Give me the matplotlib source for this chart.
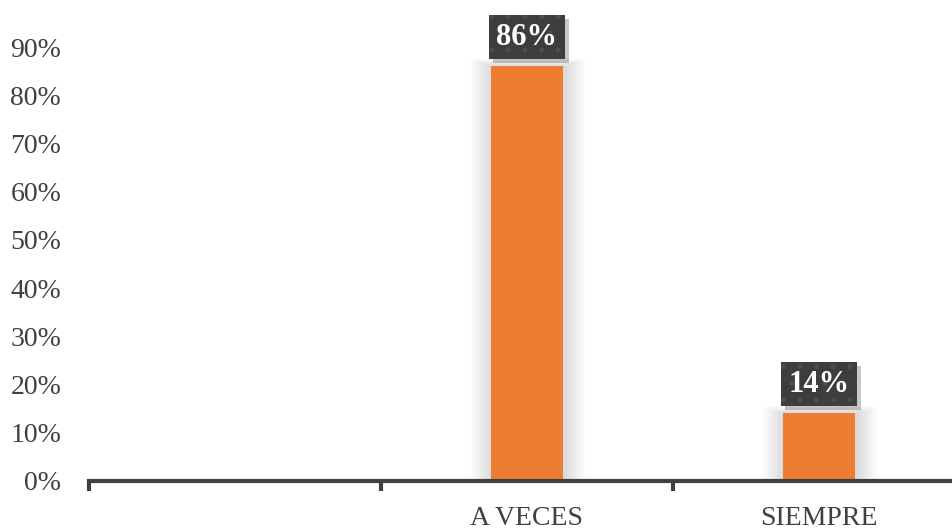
import matplotlib
matplotlib.use("Agg")
import matplotlib.pyplot as plt
from matplotlib.patches import Rectangle

_FONT = "Liberation Serif"
_TEXT = "#404040"
_BAR = "#ED7D31"

categories = ["", "A VECES", "SIEMPRE"]
values = [0.0, 0.86, 0.14]
y_ticks = [0.0, 0.1, 0.2, 0.3, 0.4, 0.5, 0.6, 0.7, 0.8, 0.9]
y_labels = ["0%", "10%", "20%", "30%", "40%", "50%", "60%", "70%", "80%", "90%"]
value_labels = ["", "86%", "14%"]

plt.rcParams["hatch.linewidth"] = 1.2

W, H = 953, 529
fig = plt.figure(figsize=(W / 100, H / 100), dpi=100)
# axes box in pixels: left 89, each category 292 px (right edge runs past the figure)
ax = fig.add_axes([89 / W, (H - 481) / H, 876 / W, 434 / H])

x = list(range(len(categories)))
bar_w = 0.247

# soft shadow around bars
for xi, v in zip(x, values):
    if v <= 0:
        continue
    for k in range(1, 10):
        grow = 0.008 * k
        ax.add_patch(Rectangle((xi - bar_w / 2 - grow + 0.004, 0), bar_w + 2 * grow, v + grow * 0.2,
                               facecolor="black", edgecolor="none", alpha=0.014, zorder=1))

ax.bar(x, values, width=bar_w, color=_BAR, zorder=3)

labels = []
for xi, v, lab in zip(x, values, value_labels):
    if not lab:
        continue
    t = ax.annotate(lab, (xi, v), xytext=(0, 21), textcoords="offset points",
                    ha="center", va="center", fontsize=22, fontweight="bold",
                    fontfamily=_FONT, color="white", zorder=5,
                    bbox=dict(boxstyle="square,pad=0.25", facecolor="#3d3d3d",
                              edgecolor="#4e4e4e", linewidth=0, hatch="."))
    labels.append(t)

ax.set_xlim(-0.5, len(categories) - 0.5)
ax.set_ylim(0, 0.9)

# boundary ticks on the x axis, labels at category centres
ax.set_xticks([i - 0.5 for i in range(len(categories) + 1)])
ax.set_xticklabels([])
ax.set_xticks(x, minor=True)
ax.set_xticklabels(categories, minor=True, fontsize=20, fontfamily=_FONT, color=_TEXT)
ax.tick_params(axis="x", which="major", length=7, width=3, color=_TEXT, direction="out")
ax.tick_params(axis="x", which="minor", length=0, pad=18)

ax.set_yticks(y_ticks)
ax.set_yticklabels(y_labels, fontsize=20, fontfamily=_FONT, color=_TEXT)
ax.tick_params(axis="y", length=0, pad=20)

for s in ["top", "right", "left"]:
    ax.spines[s].set_visible(False)
ax.spines["bottom"].set_linewidth(3)
ax.spines["bottom"].set_color(_TEXT)
ax.spines["bottom"].set_zorder(4)

# drop shadows behind the label boxes, placed from the drawn box extents
fig.canvas.draw()
for t in labels:
    bb = t.get_bbox_patch().get_window_extent()
    fig.patches.append(Rectangle((bb.x0 + 4, bb.y0 - 4), bb.width, bb.height,
                                 transform=None, facecolor="black", alpha=0.22,
                                 edgecolor="none", zorder=0))
    # keep shadow under the axes content
for p in fig.patches:
    p.set_zorder(-1)
ax.set_zorder(1)
ax.patch.set_alpha(0)

fig.savefig("out.png", dpi=100)
